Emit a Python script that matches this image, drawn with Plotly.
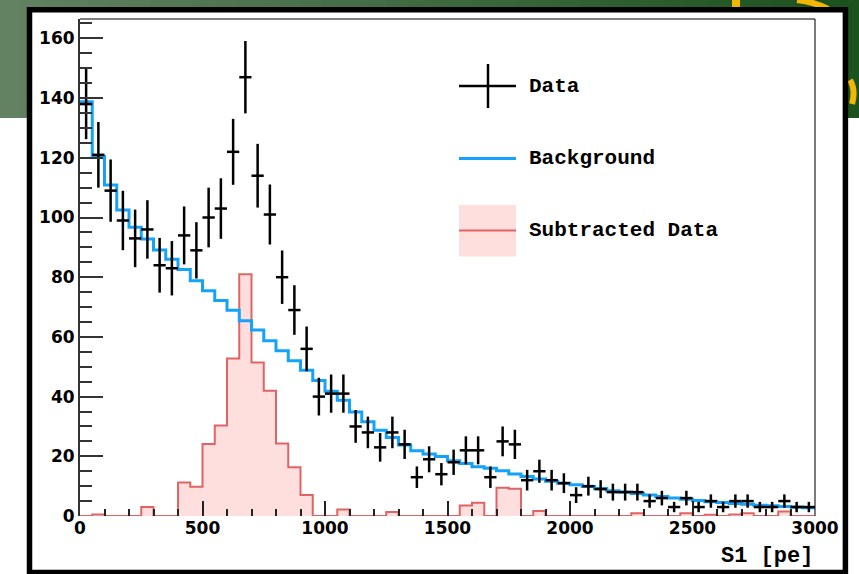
import numpy as np
import plotly.graph_objects as go

# ---------------- data (60 bins of 50 pe, 0..3000) ----------------
bin_edges = list(range(0, 3000, 50))
bin_centers = [e + 25 for e in bin_edges]

data_counts = [138, 121, 109, 99, 93, 96, 84, 83, 94, 89,
               100, 103, 122, 147, 114, 101, 80, 69, 56, 40,
               41, 41, 30, 28, 23, 28, 24, 13, 19, 14,
               18, 22, 22, 13, 25, 24, 12, 15, 12, 11,
               7, 10, 9, 8, 8, 8, 5, 6, 3, 6,
               3, 5, 3, 5, 5, 3, 3, 5, 3, 3]

background = [138.8, 120.4, 110.9, 102.5, 96.7, 92.8, 89.1, 86.0, 82.6, 78.8,
              75.5, 72.2, 68.9, 65.4, 62.3, 58.7, 55.4, 52.0, 48.8, 45.4,
              41.8, 38.8, 34.8, 31.6, 28.7, 26.3, 23.8, 21.9, 20.8, 19.9,
              18.5, 17.6, 16.5, 16.0, 15.2, 14.1, 13.2, 12.4, 11.6, 11.0,
              10.5, 9.9, 9.2, 8.5, 8.0, 7.5, 7.0, 6.5, 6.0, 5.6,
              5.2, 4.8, 4.5, 4.2, 3.9, 3.6, 3.4, 3.2, 3.0, 2.8]

subtracted = [0, 0.5, 0, 0, 0, 3.0, 0, 0, 11.2, 9.8,
              24.1, 30.3, 52.8, 81.0, 51.4, 42.0, 24.3, 16.3, 7.0, 0,
              0, 2.2, 0, 0, 0, 1.3, 0, 0, 0, 0,
              0, 3.5, 4.4, 0, 9.5, 9.1, 0, 1.7, 0, 0,
              0, 0, 0, 0, 0, 0.9, 0, 0, 0, 0.9,
              0, 0.4, 0, 0.5, 0.9, 0, 0, 1.5, 0, 0]

x_ticks = [0, 500, 1000, 1500, 2000, 2500, 3000]
y_ticks = [0, 20, 40, 60, 80, 100, 120, 140, 160]
legend_labels = ["Data", "Background", "Subtracted Data"]
x_title = "S1 [pe]"

# ---------------- layout geometry ----------------
W, H = 859, 574
L, R, T, B = 80, 44, 19, 58
PW, PH = W - L - R, H - T - B


def px(x):
    return (x - L) / PW


def py(y):
    return (H - B - y) / PH


BLUE = "#14a2fb"
RED = "#e06464"
PINK = "#ffdede"

fig = go.Figure()

step_x = bin_edges + [3000]

fig.add_trace(go.Scatter(
    x=step_x, y=subtracted + [subtracted[-1]], mode="lines", line_shape="hv",
    line=dict(color=RED, width=2), fill="tozeroy", fillcolor=PINK,
    showlegend=False, hoverinfo="skip"))

fig.add_trace(go.Scatter(
    x=step_x, y=background + [background[-1]], mode="lines", line_shape="hv",
    line=dict(color=BLUE, width=3), showlegend=False, hoverinfo="skip"))

fig.add_trace(go.Scatter(
    x=bin_centers, y=data_counts, mode="markers",
    marker=dict(size=1, color="black"),
    error_x=dict(type="constant", value=25, width=0, thickness=2.5, color="black"),
    error_y=dict(type="data", array=list(np.sqrt(data_counts)), width=0,
                 thickness=2.5, color="black"),
    showlegend=False))

shapes = []
# green slide band with gradient
n_strips = 40
c0 = np.array([98, 130, 98])
c1 = np.array([28, 82, 30])
for i in range(n_strips):
    t = i / (n_strips - 1)
    c = (c0 * (1 - t) + c1 * t).astype(int)
    shapes.append(dict(type="rect", xref="paper", yref="paper",
                       x0=px(W * i / n_strips), x1=px(W * (i + 1) / n_strips + 1),
                       y0=py(118), y1=py(0), line=dict(width=0),
                       fillcolor=f"rgb({c[0]},{c[1]},{c[2]})", layer="below"))
# yellow logo bits
YEL = "#f2b705"
shapes.append(dict(type="rect", xref="paper", yref="paper",
                   x0=px(732), x1=px(740), y0=py(8), y1=py(0),
                   line=dict(width=0), fillcolor=YEL, layer="below"))
shapes.append(dict(type="path", xref="paper", yref="paper",
                   path=f"M {px(797)} {py(0)} Q {px(815)} {py(2)} {px(828)} {py(9)}",
                   line=dict(color=YEL, width=6), layer="below"))
shapes.append(dict(type="path", xref="paper", yref="paper",
                   path=f"M {px(850)} {py(80)} Q {px(856)} {py(90)} {px(852)} {py(104)}",
                   line=dict(color=YEL, width=6), layer="below"))
# black frame
shapes.append(dict(type="rect", xref="paper", yref="paper",
                   x0=px(29.5), x1=px(845.4), y0=py(572.5), y1=py(9.8),
                   line=dict(color="black", width=5.5), fillcolor="white", layer="below"))
# top / right frame of plot area
shapes.append(dict(type="line", xref="paper", yref="paper", x0=0, x1=1, y0=1, y1=1,
                   line=dict(color="#555", width=1.5)))
shapes.append(dict(type="line", xref="paper", yref="paper", x0=1, x1=1, y0=0, y1=1,
                   line=dict(color="#222", width=1.2)))

# legend symbols
shapes.append(dict(type="line", xref="paper", yref="paper",
                   x0=px(459), x1=px(516), y0=py(86), y1=py(86),
                   line=dict(color="black", width=2.5)))
shapes.append(dict(type="line", xref="paper", yref="paper",
                   x0=px(488), x1=px(488), y0=py(64), y1=py(108),
                   line=dict(color="black", width=2.5)))
shapes.append(dict(type="line", xref="paper", yref="paper",
                   x0=px(459), x1=px(516), y0=py(158.5), y1=py(158.5),
                   line=dict(color=BLUE, width=3)))
shapes.append(dict(type="rect", xref="paper", yref="paper",
                   x0=px(459), x1=px(516), y0=py(256.5), y1=py(205),
                   line=dict(width=0), fillcolor=PINK))
shapes.append(dict(type="line", xref="paper", yref="paper",
                   x0=px(459), x1=px(516), y0=py(230.5), y1=py(230.5),
                   line=dict(color=RED, width=2)))

mono = dict(family="Liberation Mono", size=21, color="black", weight="bold")
annotations = []
for lab, yy in zip(legend_labels, [86, 158.5, 230.5]):
    annotations.append(dict(text=lab, xref="paper", yref="paper", x=px(527), y=py(yy),
                            xanchor="left", yanchor="middle", showarrow=False, font=mono))
annotations.append(dict(text=x_title, xref="paper", yref="paper", x=1.0, y=py(556),
                        xanchor="right", yanchor="middle", showarrow=False,
                        font=dict(family="Liberation Mono", size=22, color="black",
                                  weight="bold")))

tickfont = dict(family="DejaVu Sans", size=17, color="black", weight="bold")

fig.update_layout(
    width=W, height=H,
    margin=dict(l=L, r=R, t=T, b=B, pad=0),
    paper_bgcolor="white", plot_bgcolor="white",
    showlegend=False,
    shapes=shapes, annotations=annotations,
    xaxis=dict(range=[0, 3000], tickvals=x_ticks, ticktext=[str(v) for v in x_ticks],
               ticks="inside", ticklen=15, tickwidth=2, tickcolor="#222",
               minor=dict(dtick=100, tick0=0, ticks="inside", ticklen=7,
                          tickwidth=2, tickcolor="#222"),
               showline=False, showgrid=False, zeroline=False,
               tickfont=tickfont, fixedrange=True),
    yaxis=dict(range=[0, 166.5], tickvals=y_ticks, ticktext=[str(v) for v in y_ticks],
               ticks="inside", ticklen=23, tickwidth=2, tickcolor="#333",
               minor=dict(dtick=5, tick0=0, ticks="inside", ticklen=12,
                          tickwidth=2, tickcolor="#333"),
               showline=True, linewidth=2, linecolor="#333",
               showgrid=False, zeroline=False,
               tickfont=tickfont, fixedrange=True),
)

fig.write_html("out.html")
